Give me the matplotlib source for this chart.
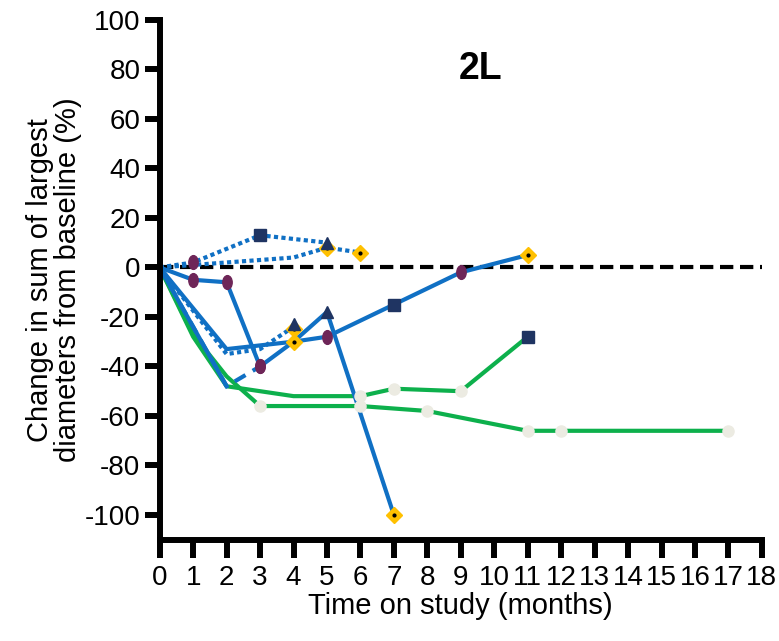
import numpy as np
import matplotlib.pyplot as plt
from matplotlib.markers import MarkerStyle
from matplotlib.transforms import Affine2D

plt.rcParams['font.family'] = ['Liberation Sans', 'DejaVu Sans']
plt.rcParams['axes.unicode_minus'] = False

# Time on study (months) and % change from baseline for each patient
s1_x = [0, 1, 2, 3, 4, 5, 7, 9, 11]
s1_y = [0, -5, -6, -40, -30, -28, -15, -2, 5]
s1_m = ['', 'o', 'o', 'o', 'D', 'o', 's', 'o', 'D']

s2_x = [0, 2, 4, 5, 7]
s2_y = [0, -33, -30, -18, -100]
s2_m = ['', '', '', '^', 'D']

s3_x = [0, 2]
s3_y = [0, -48]
s3_m = ['', '']

s4_x = [0, 2, 3]             # dashed
s4_y = [0, -48, -40]
s4_m = ['', '', 'o']

s5_x = [0, 2, 3, 4]          # dotted
s5_y = [0, -35, -33, -24]
s5_m = ['', '', '', 'D^']

s6_x = [0, 1, 3, 5]          # dotted
s6_y = [0, 2, 13, 10]
s6_m = ['', 'o', 's', '^']

s7_x = [0, 2, 4, 5, 6]       # dotted
s7_y = [0, 2, 4, 8, 6]
s7_m = ['', '', '', 'D', 'D']

g1_x = [0, 1, 2, 4, 6, 7, 9, 11]
g1_y = [0, -28, -48, -52, -52, -49, -50, -28]
g1_m = ['', '', '', '', 'w', 'w', 'w', 's']

g2_x = [0, 1, 2, 3, 6, 8, 11, 12, 17]
g2_y = [0, -27, -44, -56, -56, -58, -66, -66, -66]
g2_m = ['', '', '', 'w', 'w', 'w', 'w', 'w', 'w']

blue = '#1070c4'
green = '#0db04c'
navy = '#1f3462'
purple = '#6e2658'
gold = '#ffc000'
pale = '#ecebe2'

ellipse = MarkerStyle('o', transform=Affine2D().scale(0.75, 1.1))

fig = plt.figure(figsize=(7.79, 6.41), dpi=100)
ax = fig.add_axes([0.205, 0.158, 0.773, 0.811])

ax.axhline(0, color='black', lw=3, ls=(0, (3.2, 1.6)), zorder=1)

series = [
    (g2_x, g2_y, g2_m, green, '-'),
    (g1_x, g1_y, g1_m, green, '-'),
    (s3_x, s3_y, s3_m, blue, '-'),
    (s4_x, s4_y, s4_m, blue, (0, (3, 2))),
    (s5_x, s5_y, s5_m, blue, (0, (1, 0.8))),
    (s2_x, s2_y, s2_m, blue, '-'),
    (s1_x, s1_y, s1_m, blue, '-'),
    (s6_x, s6_y, s6_m, blue, (0, (1, 0.8))),
    (s7_x, s7_y, s7_m, blue, (0, (1, 0.8))),
]


def diamond(x, y, dy=0):
    ax.plot(x, y + dy, marker='D', ms=8, color=gold, mec=gold, zorder=4)
    ax.plot(x, y + dy, marker='.', ms=4, color='black', zorder=5)


for xs, ys, ms, col, ls in series:
    ax.plot(xs, ys, color=col, lw=3, ls=ls, zorder=2)
    for x, y, m in zip(xs, ys, ms):
        if m == 'o':
            ax.plot(x, y, marker=ellipse, ms=9, color=purple, mec=purple, zorder=4)
        elif m == 's':
            ax.plot(x, y, marker='s', ms=8, color=navy, mec=navy, zorder=4)
        elif m == '^':
            ax.plot(x, y, marker='^', ms=9, color=navy, mec=navy, zorder=6)
        elif m == 'w':
            ax.plot(x, y, marker='o', ms=8, color=pale, mec=pale, zorder=4)
        elif m == 'D':
            diamond(x, y)
        elif m == 'D^':
            diamond(x, y, -1)
            ax.plot(x, y + 1, marker='^', ms=9, color=navy, mec=navy, zorder=6)

ax.set_xlim(0, 18)
ax.set_ylim(-110, 100)
ax.set_xticks(np.arange(0, 19, 1))
ax.set_yticks(np.arange(-100, 101, 20))
for s in ['top', 'right']:
    ax.spines[s].set_visible(False)
for s in ['left', 'bottom']:
    ax.spines[s].set_linewidth(4.3)
ax.tick_params(width=4.3, length=11, labelsize=20, direction='out')
ax.tick_params(axis='x', length=13, pad=5)
ax.tick_params(axis='y', pad=3)

ax.set_xlabel('Time on study (months)', fontsize=21, labelpad=1)
ax.set_ylabel('Change in sum of largest\ndiameters from baseline (%)', fontsize=21,
              labelpad=2, linespacing=1.0)
ax.text(9.6, 80, '2L', fontsize=27, fontweight='bold', ha='center', va='center')

fig.savefig('out.png', dpi=100)
